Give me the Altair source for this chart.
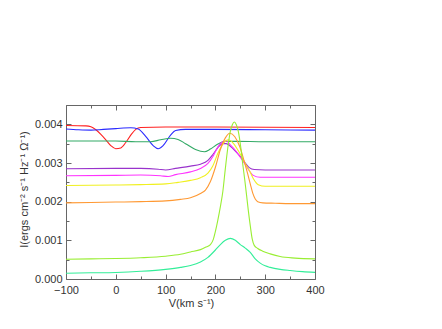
import altair as alt
import pandas as pd

# ---- data (velocity km/s, intensity) ----
v_red = [-100, -60, -50, -40, -30, -20, -10, 0, 10, 20, 30, 40, 50, 100, 200, 400]
i_red = [0.00397, 0.00396, 0.00394, 0.00386, 0.00374, 0.00360, 0.00345, 0.00337,
         0.00339, 0.00353, 0.00372, 0.00387, 0.00392, 0.00393, 0.00393, 0.00392]

v_blue = [-100, -75, -50, -25, 0, 30, 45, 60, 75, 85, 95, 110, 120, 140, 200, 300, 400]
i_blue = [0.00388, 0.00386, 0.00385, 0.00387, 0.00389, 0.00391, 0.00388, 0.00369,
          0.00345, 0.00337, 0.00345, 0.00372, 0.00384, 0.00387, 0.00387, 0.00386, 0.00385]

v_teal = [-100, -50, 0, 40, 70, 90, 110, 125, 140, 160, 178, 190, 205, 220, 240, 300, 400]
i_teal = [0.00357, 0.00357, 0.00357, 0.00355, 0.00355, 0.00360, 0.00364, 0.00361,
          0.00350, 0.00335, 0.00329, 0.00336, 0.00349, 0.00356, 0.00356, 0.00355, 0.00355]

v_purple = [-100, 0, 50, 85, 100, 120, 150, 170, 185, 195, 205, 215, 222, 230, 240,
            250, 260, 268, 278, 300, 400]
i_purple = [0.00285, 0.00286, 0.00286, 0.00284, 0.00282, 0.00286, 0.00292, 0.00297,
            0.00307, 0.00322, 0.00340, 0.00350, 0.00350, 0.00343, 0.00331, 0.00317,
            0.00300, 0.00288, 0.00283, 0.00282, 0.00282]

v_magenta = [-100, 0, 50, 90, 105, 120, 150, 170, 185, 195, 205, 215, 222, 230, 240,
             250, 260, 268, 276, 290, 320, 400]
i_magenta = [0.00267, 0.00268, 0.00269, 0.00267, 0.00265, 0.00270, 0.00277, 0.00286,
             0.00299, 0.00317, 0.00342, 0.00355, 0.00357, 0.00347, 0.00333, 0.00315,
             0.00296, 0.00280, 0.00268, 0.00263, 0.00263, 0.00263]

v_yellow = [-100, 0, 50, 100, 125, 150, 170, 185, 195, 205, 215, 226, 236, 249, 260,
            268, 276, 286, 300, 350, 400]
i_yellow = [0.00242, 0.00243, 0.00244, 0.00246, 0.00250, 0.00255, 0.00262, 0.00274,
            0.00293, 0.00325, 0.00349, 0.00360, 0.00351, 0.00325, 0.00298, 0.00281,
            0.00260, 0.00244, 0.00240, 0.00240, 0.00240]

v_orange = [-100, -50, 0, 50, 100, 130, 150, 170, 180, 190, 200, 210, 220, 229, 239,
            249, 259, 265, 270, 275, 280, 285, 295, 320, 350, 400]
i_orange = [0.00197, 0.00198, 0.00199, 0.00200, 0.00202, 0.00206, 0.00210, 0.00221,
            0.00230, 0.00252, 0.00289, 0.00335, 0.00365, 0.00377, 0.00368, 0.00342,
            0.00299, 0.00271, 0.00246, 0.00222, 0.00207, 0.00200, 0.00197, 0.00196,
            0.00195, 0.00195]

v_lime = [-100, -50, 0, 50, 100, 130, 150, 170, 180, 190, 196, 200, 205, 210, 215,
          220, 225, 230, 234, 238, 242, 246, 251, 255, 259, 263, 266, 270, 274, 278,
          285, 295, 310, 330, 360, 400]
i_lime = [0.00051, 0.00052, 0.00053, 0.00055, 0.00059, 0.00064, 0.00070, 0.00076,
          0.00082, 0.00089, 0.00103, 0.00123, 0.00153, 0.00187, 0.00227, 0.00286,
          0.00340, 0.00382, 0.00399, 0.00406, 0.00399, 0.00382, 0.00340, 0.00296,
          0.00256, 0.00212, 0.00178, 0.00138, 0.00103, 0.00087, 0.00079, 0.00072,
          0.00065, 0.00058, 0.00054, 0.00052]

v_spring = [-100, -50, 0, 50, 100, 130, 150, 170, 185, 200, 210, 220, 230, 240, 250,
            260, 270, 280, 290, 300, 310, 330, 350, 375, 400]
i_spring = [0.00015, 0.00016, 0.00017, 0.00020, 0.00025, 0.00030, 0.00035, 0.00044,
            0.00056, 0.00075, 0.00089, 0.00100, 0.00105, 0.00100, 0.00089, 0.00080,
            0.00069, 0.00052, 0.00041, 0.00034, 0.00030, 0.00025, 0.00022, 0.00019,
            0.00017]

series_names = ["red", "blue", "teal", "purple", "magenta", "yellow", "orange", "lime", "spring"]
series_colors = ["#ff2020", "#2a2aff", "#33aa66", "#9933cc", "#ff33ff", "#f0f020",
                 "#ff9933", "#99ee33", "#33ee99"]
series_v = [v_red, v_blue, v_teal, v_purple, v_magenta, v_yellow, v_orange, v_lime, v_spring]
series_i = [i_red, i_blue, i_teal, i_purple, i_magenta, i_yellow, i_orange, i_lime, i_spring]

x_major = [-100, 0, 100, 200, 300, 400]
x_minor = [-50, 50, 150, 250, 350]
y_major = [0.0, 0.001, 0.002, 0.003, 0.004]
y_minor = [0.0005, 0.0015, 0.0025, 0.0035, 0.0045]

rows = []
for name, vs, ys in zip(series_names, series_v, series_i):
    for v, y in zip(vs, ys):
        rows.append({"series": name, "v": v, "I": y})
df = pd.DataFrame(rows)

W, H = 249, 174
AX = "#666666"
xs = alt.Scale(domain=[-100, 400], nice=False, zero=False)
ysc = alt.Scale(domain=[0, 0.0045], nice=False, zero=False)
cs = alt.Scale(domain=series_names, range=series_colors)


def layer(xaxis, yaxis, visible):
    return alt.Chart(df).mark_line(
        strokeWidth=1.1, interpolate="monotone", opacity=1 if visible else 0
    ).encode(
        x=alt.X("v:Q", scale=xs, axis=xaxis),
        y=alt.Y("I:Q", scale=ysc, axis=yaxis),
        color=alt.Color("series:N", scale=cs, legend=None),
    )


def tick_axis(orient, offset, values, size, domain):
    return alt.Axis(orient=orient, offset=offset, values=values, tickSize=size,
                    labels=False, domain=domain, grid=False, title=None,
                    tickColor=AX, domainColor=AX, tickWidth=1)


x_lab = alt.Axis(orient="bottom", values=x_major, format="d", ticks=False, tickSize=0,
                 labelPadding=5, labelFlush=False, labelOverlap=False,
                 domain=True, grid=False, title="V(km s\u207b\u00b9)",
                 titleX=125, titleY=24, titleBaseline="middle", titleAnchor="middle")
y_lab = alt.Axis(orient="left", values=y_major, format=".3f", ticks=False, tickSize=0,
                 labelPadding=4, labelFlush=False, labelOverlap=False,
                 domain=True, grid=False,
                 title="I(ergs cm\u207b\u00b2 s\u207b\u00b9 Hz\u207b\u00b9 \u03a9\u207b\u00b9)",
                 titleX=-42, titleY=84, titleBaseline="middle", titleAngle=-90)

layers = [
    layer(tick_axis("top", -H, x_major, 5, False), tick_axis("right", -W, y_major, 5, False), False),
    layer(tick_axis("top", -H, x_minor, 3, False), tick_axis("right", -W, y_minor, 3, False), False),
    layer(tick_axis("bottom", -H, x_major, 5, True), tick_axis("left", -W, y_major, 5, True), False),
    layer(tick_axis("bottom", -H, x_minor, 3, False), tick_axis("left", -W, y_minor, 3, False), False),
    layer(x_lab, y_lab, True),
]

chart = alt.layer(*layers).resolve_axis(x="independent", y="independent").properties(
    width=W, height=H, autosize="none",
    padding={"left": 58, "top": 97, "right": 60, "bottom": 40},
).configure_view(strokeWidth=0).configure_axis(
    labelFont="Liberation Sans", titleFont="Liberation Sans",
    labelFontSize=11, titleFontSize=11, labelColor="#333333", titleColor="#333333",
    titleFontWeight="normal", domainColor=AX, tickColor=AX,
)

chart.save("out.html", embed_options={"renderer": "svg", "actions": False})
